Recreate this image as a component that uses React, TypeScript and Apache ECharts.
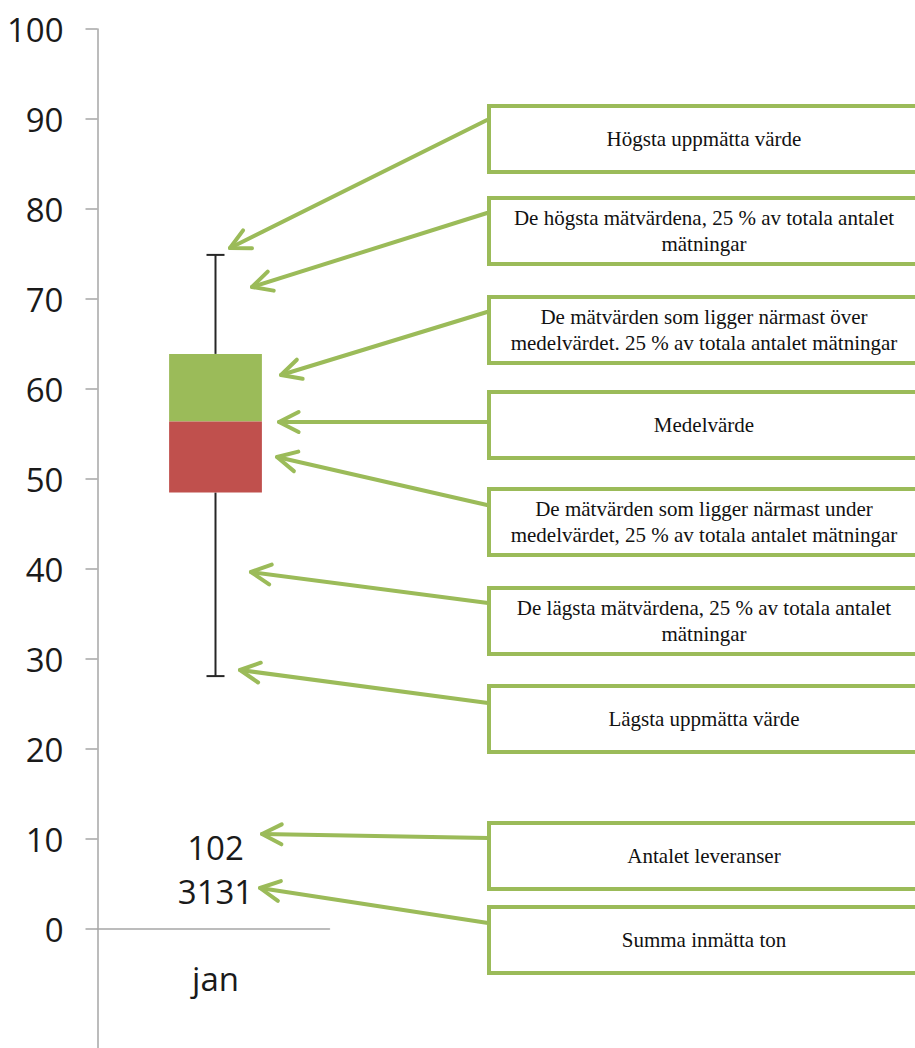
import React, { useEffect, useRef } from "react";
import * as echarts from "echarts";

// ---- data ----
const categories = ["jan"];
const minValues = [28.1];
const q1Values = [48.5];
const medianValues = [56.4];
const q3Values = [63.9];
const maxValues = [74.9];
const deliveryCounts = [102];
const tonSums = [3131];
const yTickValues = [0, 10, 20, 30, 40, 50, 60, 70, 80, 90, 100];

const annotationTexts = [
  "Högsta uppmätta värde",
  "De högsta mätvärdena, 25 % av totala antalet\nmätningar",
  "De mätvärden som ligger närmast över\nmedelvärdet. 25 % av totala antalet mätningar",
  "Medelvärde",
  "De mätvärden som ligger närmast under\nmedelvärdet, 25 % av totala antalet mätningar",
  "De lägsta mätvärdena, 25 % av totala antalet\nmätningar",
  "Lägsta uppmätta värde",
  "Antalet leveranser",
  "Summa inmätta ton",
];

// layout (pixels) for annotation boxes & arrows
const boxTops = [106, 198, 297, 392, 489, 588, 686, 823, 907];
const BOX_H = 66;
const BOX_X = 489;
const BOX_W = 432;
const arrowStarts: number[][] = [
  [487, 120], [487, 213], [487, 312], [487, 422], [487, 505],
  [488, 603], [488, 703], [488, 838], [488, 923],
];
const arrowTips: number[][] = [
  [230, 248], [252, 287], [281, 375], [279, 422], [277, 457],
  [251, 572], [240, 670], [262, 834], [260, 888],
];

const GREEN = "#9BBB59";
const RED = "#C0504D";
const AXIS = "#a6a6a6";
const NUMFONT = "'Open Sans', 'Noto Sans', sans-serif";
const TEXT = "#1a1a1a";

// vertical positions (in axis units) of the text rows under the box
const COUNT_ROW = 9.1;
const TON_ROW = 4.2;
const CATEGORY_ROW = -5.5;

function arrowHead(tip: number[], start: number[]) {
  const dx = start[0] - tip[0];
  const dy = start[1] - tip[1];
  const len = Math.sqrt(dx * dx + dy * dy);
  const ux = dx / len;
  const uy = dy / len;
  const L = 22;
  const a = (27 * Math.PI) / 180;
  const rot = (ang: number) => [
    tip[0] + L * (ux * Math.cos(ang) - uy * Math.sin(ang)),
    tip[1] + L * (ux * Math.sin(ang) + uy * Math.cos(ang)),
  ];
  return [rot(a), tip, rot(-a)];
}

export default function App() {
  const ref = useRef<HTMLDivElement>(null);
  useEffect(() => {
    document.body.style.margin = "0";
    if (!ref.current) return;
    const chart = echarts.init(ref.current, undefined, { renderer: "svg" });

    const graphics: any[] = [];
    annotationTexts.forEach((t, i) => {
      graphics.push({
        type: "rect",
        shape: { x: BOX_X, y: boxTops[i], width: BOX_W, height: BOX_H },
        style: { fill: "#ffffff", stroke: GREEN, lineWidth: 4 },
        z: 10,
      });
      graphics.push({
        type: "text",
        x: 704,
        y: boxTops[i] + BOX_H / 2,
        style: {
          text: t,
          fill: "#111111",
          fontSize: 21,
          fontFamily: "'Liberation Serif', 'DejaVu Serif', serif",
          lineHeight: 26,
          align: "center",
          verticalAlign: "middle",
          textAlign: "center",
          textVerticalAlign: "middle",
        },
        z: 11,
      });
      const s = arrowStarts[i];
      const tip = arrowTips[i];
      graphics.push({
        type: "line",
        shape: { x1: s[0], y1: s[1], x2: tip[0], y2: tip[1] },
        style: { stroke: GREEN, lineWidth: 4, lineCap: "round" },
        z: 9,
      });
      graphics.push({
        type: "polyline",
        shape: { points: arrowHead(tip, s) },
        style: { stroke: GREEN, lineWidth: 4, lineCap: "round", lineJoin: "round", fill: "none" },
        z: 9,
      });
    });

    const boxData = categories.map((_, i) => [
      i, minValues[i], q1Values[i], medianValues[i], q3Values[i], maxValues[i],
    ]);
    const labelData = categories.map((_, i) => [i]);

    const textEl = (x: number, y: number, text: string) => ({
      type: "text",
      x,
      y,
      style: {
        text,
        fill: TEXT,
        fontSize: 33,
        fontFamily: NUMFONT,
        align: "center",
        verticalAlign: "middle",
        textAlign: "center",
        textVerticalAlign: "middle",
      },
    });

    const option: any = {
      animation: false,
      grid: {
        left: 97.5,
        top: 29,
        width: 232,
        height: 1019,
        containLabel: false,
        outerBoundsMode: "none",
      },
      xAxis: {
        type: "category",
        data: categories,
        axisLine: { show: true, onZero: true, lineStyle: { color: AXIS, width: 1.5 } },
        axisTick: { show: false },
        axisLabel: { show: false },
        splitLine: { show: false },
      },
      yAxis: {
        type: "value",
        min: -119 / 9,
        max: 100,
        axisLine: { show: true, lineStyle: { color: AXIS, width: 1.5 } },
        axisTick: {
          show: true,
          length: 12,
          customValues: yTickValues,
          lineStyle: { color: AXIS, width: 1.5 },
        },
        axisLabel: {
          customValues: yTickValues,
          fontSize: 33,
          fontFamily: NUMFONT,
          color: TEXT,
          margin: 34,
        },
        splitLine: { show: false },
      },
      series: [
        {
          type: "custom",
          data: boxData,
          encode: { x: 0, y: [1, 2, 3, 4, 5] },
          renderItem: (params: any, api: any) => {
            const idx = api.value(0);
            const pMin = api.coord([idx, api.value(1)]);
            const pQ1 = api.coord([idx, api.value(2)]);
            const pMed = api.coord([idx, api.value(3)]);
            const pQ3 = api.coord([idx, api.value(4)]);
            const pMax = api.coord([idx, api.value(5)]);
            const w = api.size([1, 0])[0] * 0.4;
            const cx = pMed[0] + 2;
            const cap = 9;
            const ls = { stroke: "#262626", lineWidth: 2 };
            return {
              type: "group",
              children: [
                { type: "line", shape: { x1: cx, y1: pMax[1], x2: cx, y2: pQ3[1] }, style: ls },
                { type: "line", shape: { x1: cx, y1: pQ1[1], x2: cx, y2: pMin[1] }, style: ls },
                { type: "line", shape: { x1: cx - cap, y1: pMax[1], x2: cx + cap, y2: pMax[1] }, style: ls },
                { type: "line", shape: { x1: cx - cap, y1: pMin[1], x2: cx + cap, y2: pMin[1] }, style: ls },
                {
                  type: "rect",
                  shape: { x: cx - w / 2, y: pQ3[1], width: w, height: pMed[1] - pQ3[1] },
                  style: { fill: GREEN },
                },
                {
                  type: "rect",
                  shape: { x: cx - w / 2, y: pMed[1], width: w, height: pQ1[1] - pMed[1] },
                  style: { fill: RED },
                },
              ],
            };
          },
          z: 3,
        },
        {
          type: "custom",
          data: labelData,
          encode: { x: 0 },
          silent: true,
          renderItem: (params: any, api: any) => {
            const i = params.dataIndex;
            const idx = api.value(0);
            const p1 = api.coord([idx, COUNT_ROW]);
            const p2 = api.coord([idx, TON_ROW]);
            const p3 = api.coord([idx, CATEGORY_ROW]);
            const cx = p1[0] + 2;
            return {
              type: "group",
              children: [
                textEl(cx, p1[1], String(deliveryCounts[i])),
                textEl(cx, p2[1], String(tonSums[i])),
                textEl(cx, p3[1], categories[i]),
              ],
            };
          },
          z: 4,
        },
      ],
      graphic: { elements: graphics },
    };
    chart.setOption(option);
    return () => chart.dispose();
  }, []);
  return <div ref={ref} style={{ width: 915, height: 1048 }} />;
}
